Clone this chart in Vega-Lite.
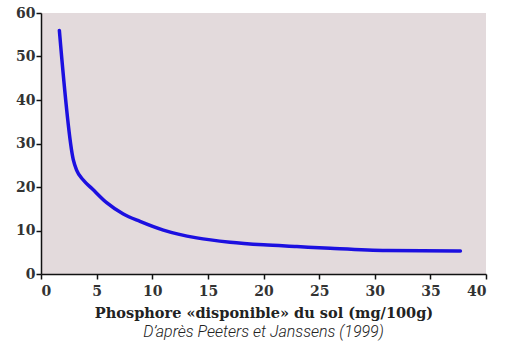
{
  "$schema": "https://vega.github.io/schema/vega-lite/v6.json",
  "width": 445,
  "height": 261,
  "autosize": {"type": "none"},
  "padding": {"left": 41, "top": 13, "right": 21, "bottom": 76},
  "background": "white",
  "config": {
    "view": {"fill": "#e3dadc", "stroke": null},
    "axis": {"grid": false, "domainColor": "#111", "domainWidth": 1.5, "tickColor": "#111", "tickWidth": 1.5, "tickSize": 5,
      "labelFont": "DejaVu Serif", "labelFontSize": 14, "labelFontWeight": "bold", "labelColor": "#333",
      "titleFont": "DejaVu Serif", "titleFontSize": 14.5, "titleFontWeight": "bold", "titleColor": "#222"}
  },
  "title": {
    "text": "D’après Peeters et Janssens (1999)",
    "orient": "bottom",
    "anchor": "middle",
    "font": "Roboto",
    "fontSize": 16,
    "fontStyle": "italic",
    "fontWeight": 300,
    "color": "#222",
    "offset": 4,
    "dx": 0
  },
  "data": {
    "values": [
      {"p": 1.65, "v": 56.0},
      {"p": 2.9, "v": 26.3},
      {"p": 3.2, "v": 23.9},
      {"p": 3.8, "v": 21.6},
      {"p": 4.6, "v": 19.6},
      {"p": 5.9, "v": 16.4},
      {"p": 7.4, "v": 13.8},
      {"p": 8.9, "v": 12.1},
      {"p": 11.0, "v": 10.1},
      {"p": 14.0, "v": 8.3},
      {"p": 17.0, "v": 7.3},
      {"p": 20.0, "v": 6.7},
      {"p": 23.0, "v": 6.3},
      {"p": 26.0, "v": 5.9},
      {"p": 31.1, "v": 5.4},
      {"p": 37.7, "v": 5.3}
    ]
  },
  "mark": {"type": "line", "color": "#1c10e0", "strokeWidth": 3.5, "interpolate": "monotone", "strokeCap": "round"},
  "encoding": {
    "x": {"field": "p", "type": "quantitative", "scale": {"domain": [0, 40], "nice": false},
      "axis": {"values": [0, 5, 10, 15, 20, 25, 30, 35, 40], "title": "Phosphore «disponible» du sol (mg/100g)", "labelPadding": 5, "titlePadding": 8}},
    "y": {"field": "v", "type": "quantitative", "scale": {"domain": [0, 60], "nice": false},
      "axis": {"values": [0, 10, 20, 30, 40, 50, 60], "title": null, "labelPadding": 1}}
  }
}
